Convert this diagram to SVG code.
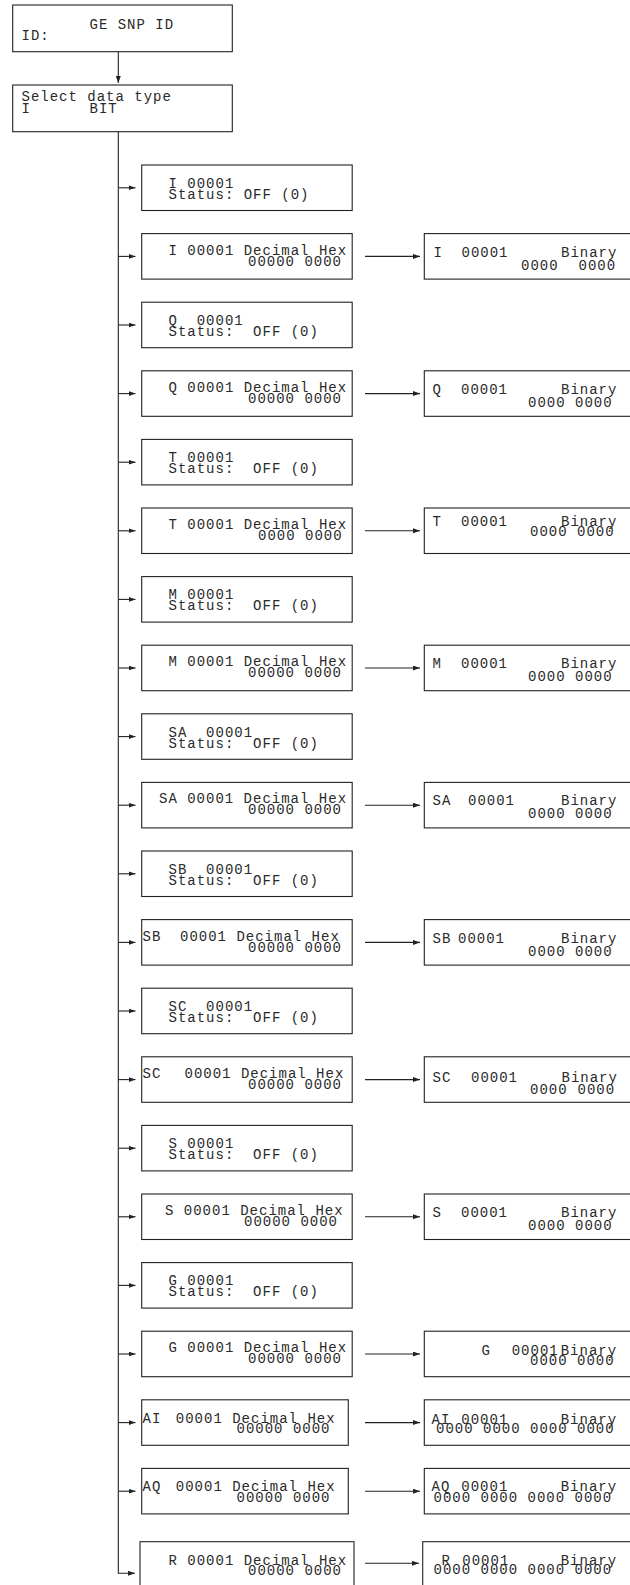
<svg xmlns="http://www.w3.org/2000/svg" width="630" height="1585" viewBox="0 0 630 1585">
<style>
.b{fill:#fff;stroke:#222;stroke-width:1.1}
.c{fill:none;stroke:#222;stroke-width:1.1}
.t{font-family:"Liberation Mono","Courier New",monospace;font-size:14px;letter-spacing:1px;fill:#2a2a2a;white-space:pre}
</style>
<defs>
<marker id="ah" markerWidth="8" markerHeight="6" refX="7" refY="2.5" orient="auto" markerUnits="userSpaceOnUse"><path d="M0,0 L7,2.5 L0,5 z" fill="#222"/></marker>
</defs>
<rect width="630" height="1585" fill="#fff"/>
<g id="connectors">
<line class="c" x1="118.3" y1="51.7" x2="118.3" y2="83" marker-end="url(#ah)"/>
<polyline class="c" points="118.3,131.7 118.3,1573.3 135,1573.3" marker-end="url(#ah)"/>
<line class="c" x1="118.3" y1="187.8" x2="135.5" y2="187.8" marker-end="url(#ah)"/>
<line class="c" x1="118.3" y1="256.4" x2="135.5" y2="256.4" marker-end="url(#ah)"/>
<line class="c" x1="118.3" y1="325.0" x2="135.5" y2="325.0" marker-end="url(#ah)"/>
<line class="c" x1="118.3" y1="393.6" x2="135.5" y2="393.6" marker-end="url(#ah)"/>
<line class="c" x1="118.3" y1="462.2" x2="135.5" y2="462.2" marker-end="url(#ah)"/>
<line class="c" x1="118.3" y1="530.8" x2="135.5" y2="530.8" marker-end="url(#ah)"/>
<line class="c" x1="118.3" y1="599.4" x2="135.5" y2="599.4" marker-end="url(#ah)"/>
<line class="c" x1="118.3" y1="668.0" x2="135.5" y2="668.0" marker-end="url(#ah)"/>
<line class="c" x1="118.3" y1="736.6" x2="135.5" y2="736.6" marker-end="url(#ah)"/>
<line class="c" x1="118.3" y1="805.2" x2="135.5" y2="805.2" marker-end="url(#ah)"/>
<line class="c" x1="118.3" y1="873.8" x2="135.5" y2="873.8" marker-end="url(#ah)"/>
<line class="c" x1="118.3" y1="942.4" x2="135.5" y2="942.4" marker-end="url(#ah)"/>
<line class="c" x1="118.3" y1="1011.0" x2="135.5" y2="1011.0" marker-end="url(#ah)"/>
<line class="c" x1="118.3" y1="1079.6" x2="135.5" y2="1079.6" marker-end="url(#ah)"/>
<line class="c" x1="118.3" y1="1148.2" x2="135.5" y2="1148.2" marker-end="url(#ah)"/>
<line class="c" x1="118.3" y1="1216.8" x2="135.5" y2="1216.8" marker-end="url(#ah)"/>
<line class="c" x1="118.3" y1="1285.4" x2="135.5" y2="1285.4" marker-end="url(#ah)"/>
<line class="c" x1="118.3" y1="1354.0" x2="135.5" y2="1354.0" marker-end="url(#ah)"/>
<line class="c" x1="118.3" y1="1422.6" x2="135.5" y2="1422.6" marker-end="url(#ah)"/>
<line class="c" x1="118.3" y1="1491.2" x2="135.5" y2="1491.2" marker-end="url(#ah)"/>
<line class="c" x1="365" y1="256.4" x2="420" y2="256.4" marker-end="url(#ah)"/>
<line class="c" x1="365" y1="393.6" x2="420" y2="393.6" marker-end="url(#ah)"/>
<line class="c" x1="365" y1="530.8" x2="420" y2="530.8" marker-end="url(#ah)"/>
<line class="c" x1="365" y1="668.0" x2="420" y2="668.0" marker-end="url(#ah)"/>
<line class="c" x1="365" y1="805.2" x2="420" y2="805.2" marker-end="url(#ah)"/>
<line class="c" x1="365" y1="942.4" x2="420" y2="942.4" marker-end="url(#ah)"/>
<line class="c" x1="365" y1="1079.6" x2="420" y2="1079.6" marker-end="url(#ah)"/>
<line class="c" x1="365" y1="1216.8" x2="420" y2="1216.8" marker-end="url(#ah)"/>
<line class="c" x1="365" y1="1354.0" x2="420" y2="1354.0" marker-end="url(#ah)"/>
<line class="c" x1="365" y1="1422.6" x2="420" y2="1422.6" marker-end="url(#ah)"/>
<line class="c" x1="365" y1="1491.2" x2="420" y2="1491.2" marker-end="url(#ah)"/>
<line class="c" x1="365" y1="1563.3" x2="419" y2="1563.3" marker-end="url(#ah)"/>
</g>
<g id="n-id"><rect class="b" x="12.7" y="5" width="219.6" height="46.7"/><text class="t" x="89.5" y="29.3">GE SNP ID</text><text class="t" x="21.5" y="39.8">ID:</text></g>
<g id="n-select"><rect class="b" x="12.7" y="85" width="219.6" height="46.7"/><text class="t" x="21.5" y="101.3">Select data type</text><text class="t" x="21.5" y="112.5"><tspan x="21.5">I</tspan><tspan x="89.5">BIT</tspan></text></g>

<g id="n-i-status"><rect class="b" x="141.7" y="165.0" width="210.5" height="45.5"/><text class="t" x="168.5" y="187.7">I 00001</text><text class="t" x="168.5" y="198.7">Status: OFF (0)</text></g>
<g id="n-i-dec"><rect class="b" x="141.7" y="233.6" width="210.5" height="45.5"/><text class="t" x="168.5" y="254.6">I 00001 Decimal Hex</text><text class="t" x="248" y="265.6">00000 0000</text></g>
<g id="n-q-status"><rect class="b" x="141.7" y="302.2" width="210.5" height="45.5"/><text class="t" x="168.5" y="324.9">Q  00001</text><text class="t" x="168.5" y="335.9">Status:  OFF (0)</text></g>
<g id="n-q-dec"><rect class="b" x="141.7" y="370.8" width="210.5" height="45.5"/><text class="t" x="168.5" y="391.8">Q 00001 Decimal Hex</text><text class="t" x="248" y="402.8">00000 0000</text></g>
<g id="n-t-status"><rect class="b" x="141.7" y="439.4" width="210.5" height="45.5"/><text class="t" x="168.5" y="462.1">T 00001</text><text class="t" x="168.5" y="473.1">Status:  OFF (0)</text></g>
<g id="n-t-dec"><rect class="b" x="141.7" y="508.0" width="210.5" height="45.5"/><text class="t" x="168.5" y="529.0">T 00001 Decimal Hex</text><text class="t" x="258" y="540.0">0000 0000</text></g>
<g id="n-m-status"><rect class="b" x="141.7" y="576.6" width="210.5" height="45.5"/><text class="t" x="168.5" y="599.3">M 00001</text><text class="t" x="168.5" y="610.3">Status:  OFF (0)</text></g>
<g id="n-m-dec"><rect class="b" x="141.7" y="645.2" width="210.5" height="45.5"/><text class="t" x="168.5" y="666.2">M 00001 Decimal Hex</text><text class="t" x="248" y="677.2">00000 0000</text></g>
<g id="n-sa-status"><rect class="b" x="141.7" y="713.8" width="210.5" height="45.5"/><text class="t" x="168.5" y="736.5">SA  00001</text><text class="t" x="168.5" y="747.5">Status:  OFF (0)</text></g>
<g id="n-sa-dec"><rect class="b" x="141.7" y="782.4" width="210.5" height="45.5"/><text class="t" x="159" y="803.4">SA 00001 Decimal Hex</text><text class="t" x="248" y="814.4">00000 0000</text></g>
<g id="n-sb-status"><rect class="b" x="141.7" y="851.0" width="210.5" height="45.5"/><text class="t" x="168.5" y="873.7">SB  00001</text><text class="t" x="168.5" y="884.7">Status:  OFF (0)</text></g>
<g id="n-sb-dec"><rect class="b" x="141.7" y="919.6" width="210.5" height="45.5"/><text class="t" x="142.5" y="940.6"><tspan x="142.5">SB  </tspan><tspan x="180">00001 Decimal Hex</tspan></text><text class="t" x="248" y="951.6">00000 0000</text></g>
<g id="n-sc-status"><rect class="b" x="141.7" y="988.2" width="210.5" height="45.5"/><text class="t" x="168.5" y="1010.9">SC  00001</text><text class="t" x="168.5" y="1021.9">Status:  OFF (0)</text></g>
<g id="n-sc-dec"><rect class="b" x="141.7" y="1056.8" width="210.5" height="45.5"/><text class="t" x="142.5" y="1077.8"><tspan x="142.5">SC  </tspan><tspan x="184.5">00001 Decimal Hex</tspan></text><text class="t" x="248" y="1088.8">00000 0000</text></g>
<g id="n-s-status"><rect class="b" x="141.7" y="1125.4" width="210.5" height="45.5"/><text class="t" x="168.5" y="1148.1">S 00001</text><text class="t" x="168.5" y="1159.1">Status:  OFF (0)</text></g>
<g id="n-s-dec"><rect class="b" x="141.7" y="1194.0" width="210.5" height="45.5"/><text class="t" x="165" y="1215.0">S 00001 Decimal Hex</text><text class="t" x="244" y="1226.0">00000 0000</text></g>
<g id="n-g-status"><rect class="b" x="141.7" y="1262.6" width="210.5" height="45.5"/><text class="t" x="168.5" y="1285.3">G 00001</text><text class="t" x="168.5" y="1296.3">Status:  OFF (0)</text></g>
<g id="n-g-dec"><rect class="b" x="141.7" y="1331.2" width="210.5" height="45.5"/><text class="t" x="168.5" y="1352.2">G 00001 Decimal Hex</text><text class="t" x="248" y="1363.2">00000 0000</text></g>
<g id="n-ai-dec"><rect class="b" x="141.7" y="1399.8" width="206.6" height="45.5"/><text class="t" x="142.5" y="1422.8"><tspan x="142.5">AI </tspan><tspan x="175.8">00001 Decimal Hex</tspan></text><text class="t" x="236.5" y="1433.3">00000 0000</text></g>
<g id="n-aq-dec"><rect class="b" x="141.7" y="1468.4" width="206.6" height="45.5"/><text class="t" x="142.5" y="1491.4"><tspan x="142.5">AQ </tspan><tspan x="175.8">00001 Decimal Hex</tspan></text><text class="t" x="236.5" y="1501.9">00000 0000</text></g>
<g id="n-r-dec"><rect class="b" x="140" y="1541.7" width="214" height="60"/><text class="t" x="168.5" y="1564.8">R 00001 Decimal Hex</text><text class="t" x="248" y="1575.2">00000 0000</text></g>

<g id="n-i-bin"><rect class="b" x="424.3" y="233.6" width="220" height="45.5"/><text class="t" y="256.6"><tspan x="433.5">I  </tspan><tspan x="461.5">00001 </tspan><tspan x="561">Binary</tspan></text><text class="t" y="269.6"><tspan x="521">0000 </tspan><tspan x="578.5">0000</tspan></text></g>
<g id="n-q-bin"><rect class="b" x="424.3" y="370.8" width="220" height="45.5"/><text class="t" y="393.8"><tspan x="432.5">Q  </tspan><tspan x="461">00001 </tspan><tspan x="561">Binary</tspan></text><text class="t" x="528" y="406.8">0000 0000</text></g>
<g id="n-t-bin"><rect class="b" x="424.3" y="508.0" width="220" height="45.5"/><text class="t" y="526.3"><tspan x="432.5">T  </tspan><tspan x="461">00001 </tspan><tspan x="561">Binary</tspan></text><text class="t" x="530" y="536.0">0000 0000</text></g>
<g id="n-m-bin"><rect class="b" x="424.3" y="645.2" width="220" height="45.5"/><text class="t" y="668.2"><tspan x="432.5">M  </tspan><tspan x="461">00001 </tspan><tspan x="561">Binary</tspan></text><text class="t" x="528" y="681.2">0000 0000</text></g>
<g id="n-sa-bin"><rect class="b" x="424.3" y="782.4" width="220" height="45.5"/><text class="t" y="805.4"><tspan x="432.5">SA  </tspan><tspan x="468">00001 </tspan><tspan x="561">Binary</tspan></text><text class="t" x="528" y="818.4">0000 0000</text></g>
<g id="n-sb-bin"><rect class="b" x="424.3" y="919.6" width="220" height="45.5"/><text class="t" y="942.6"><tspan x="432.5">SB </tspan><tspan x="458">00001 </tspan><tspan x="561">Binary</tspan></text><text class="t" x="528" y="955.6">0000 0000</text></g>
<g id="n-sc-bin"><rect class="b" x="424.3" y="1056.8" width="220" height="45.5"/><text class="t" y="1081.5"><tspan x="432.5">SC  </tspan><tspan x="471">00001 </tspan><tspan x="561.5">Binary</tspan></text><text class="t" y="1093.5"><tspan x="530">0000 </tspan><tspan x="577.5">0000</tspan></text></g>
<g id="n-s-bin"><rect class="b" x="424.3" y="1194.0" width="220" height="45.5"/><text class="t" y="1217.0"><tspan x="432.5">S  </tspan><tspan x="461">00001 </tspan><tspan x="561">Binary</tspan></text><text class="t" x="528" y="1230.0">0000 0000</text></g>
<g id="n-g-bin"><rect class="b" x="424.3" y="1331.2" width="220" height="45.5"/><text class="t" y="1355.0"><tspan x="481.5">G  </tspan><tspan x="511.7">00001 </tspan><tspan x="560.7">Binary</tspan></text><text class="t" x="530" y="1365.3">0000 0000</text></g>
<g id="n-ai-bin"><rect class="b" x="424.3" y="1399.8" width="220" height="45.5"/><text class="t" y="1423.8"><tspan x="431.5">AI </tspan><tspan x="461.3">00001 </tspan><tspan x="560.7">Binary</tspan></text><text class="t" x="436" y="1433.3">0000 0000 0000 0000</text></g>
<g id="n-aq-bin"><rect class="b" x="424.3" y="1468.4" width="220" height="45.5"/><text class="t" y="1491.4"><tspan x="431.5">AQ </tspan><tspan x="461.3">00001 </tspan><tspan x="560.7">Binary</tspan></text><text class="t" x="433.5" y="1501.9">0000 0000 0000 0000</text></g>
<g id="n-r-bin"><rect class="b" x="422.7" y="1541.7" width="222" height="60"/><text class="t" y="1564.8"><tspan x="441.5">R  </tspan><tspan x="462.3">00001 </tspan><tspan x="560.7">Binary</tspan></text><text class="t" x="433.5" y="1574.3">0000 0000 0000 0000</text></g>
</svg>
